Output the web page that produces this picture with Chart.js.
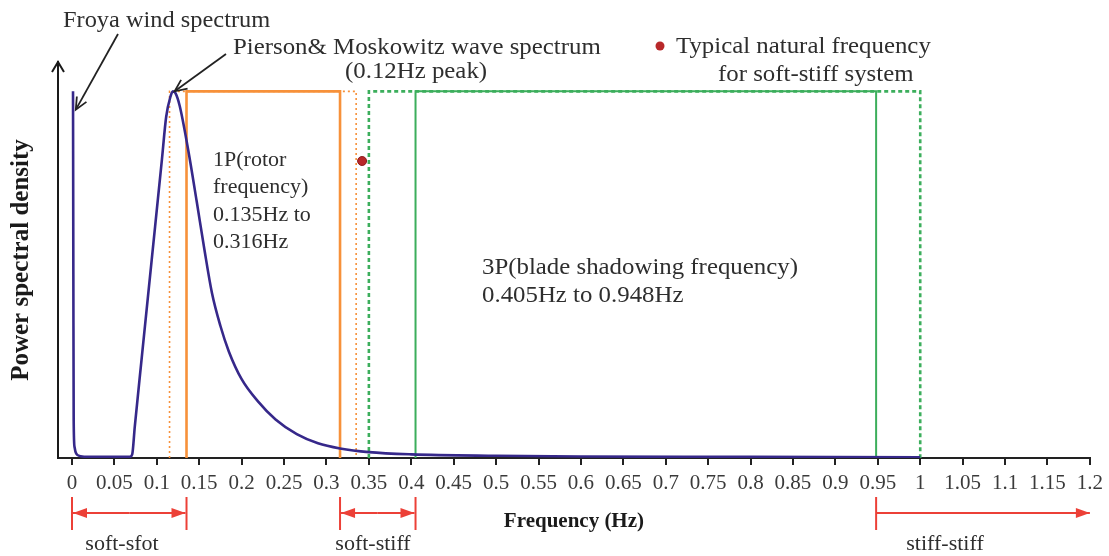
<!DOCTYPE html>
<html>
<head>
<meta charset="utf-8">
<script src="https://cdn.jsdelivr.net/npm/chart.js@4.4.1/dist/chart.umd.min.js"></script>
<style>
  html, body { margin: 0; padding: 0; background: #ffffff; }
  #c { display: block; }
</style>
</head>
<body>
<canvas id="c" width="1109" height="556"></canvas>
<script>
// ---------------- data ----------------
const xTickValues = [0, 0.05, 0.1, 0.15, 0.2, 0.25, 0.3, 0.35, 0.4, 0.45, 0.5, 0.55, 0.6,
                     0.65, 0.7, 0.75, 0.8, 0.85, 0.9, 0.95, 1, 1.05, 1.1, 1.15, 1.2];
const xTickLabels = ['0', '0.05', '0.1', '0.15', '0.2', '0.25', '0.3', '0.35', '0.4', '0.45', '0.5', '0.55', '0.6',
                     '0.65', '0.7', '0.75', '0.8', '0.85', '0.9', '0.95', '1', '1.05', '1.1', '1.15', '1.2'];

// Froya wind spike + Pierson-Moskowitz wave spectrum (normalised PSD)
const spectrumFreq = [0.0012, 0.0016, 0.002, 0.003, 0.005, 0.01, 0.02, 0.04, 0.06, 0.068, 0.071,
                      0.074, 0.082, 0.094, 0.106, 0.111, 0.116, 0.119, 0.122, 0.127, 0.137, 0.147,
                      0.156, 0.165, 0.175, 0.185, 0.2, 0.219, 0.24, 0.265, 0.29, 0.316, 0.35, 0.4, 0.5,
                      0.6, 0.8, 1.0];
const spectrumPSD  = [1.0, 0.5, 0.1, 0.03, 0.012, 0.005, 0.003, 0.003, 0.003, 0.003, 0.01,
                      0.085, 0.268, 0.541, 0.814, 0.93, 0.985, 1.0, 0.995, 0.96, 0.84, 0.70,
                      0.57, 0.45, 0.36, 0.29, 0.215, 0.155, 0.105, 0.065, 0.04, 0.026, 0.016, 0.01, 0.006,
                      0.004, 0.003, 0.002];

const bandTop = 1.0;
const oneP = [0.135, 0.316];          // 1P rotor frequency range
const onePMargin = [0.115, 0.335];    // 1P with margin (dotted)
const threeP = [0.405, 0.948];        // 3P blade shadowing range
const threePMargin = [0.35, 1.0];     // 3P with margin (dotted)
const naturalFreq = [0.342];          // typical natural frequency (soft-stiff)
const naturalPSD = [0.81];

const regionNames = ['soft-sfot', 'soft-stiff', 'stiff-stiff'];
const regionStart = [0, 0.316, 0.948];
const regionEnd   = [0.135, 0.405, 1.2];

// ---------------- helpers ----------------
function rect(range, top) {
  return [{x: range[0], y: 0}, {x: range[0], y: top}, {x: range[1], y: top}, {x: range[1], y: 0}];
}

const PURPLE = '#36288a';
const ORANGE = '#f7913a';
const GREEN = '#3cae5c';
const RED = '#ec4037';
const TEXT = '#2e2e2e';
const SERIF = "'Liberation Serif', 'Times New Roman', serif";

Chart.defaults.font.family = SERIF;
Chart.defaults.color = TEXT;

function arrow(ctx, x1, y1, x2, y2, color, len, half, filled) {
  const a = Math.atan2(y2 - y1, x2 - x1);
  ctx.strokeStyle = color;
  ctx.fillStyle = color;
  ctx.beginPath();
  ctx.moveTo(x1, y1);
  ctx.lineTo(x2, y2);
  ctx.stroke();
  const bx = x2 - len * Math.cos(a), by = y2 - len * Math.sin(a);
  const px = -Math.sin(a) * half, py = Math.cos(a) * half;
  ctx.beginPath();
  if (filled) {
    ctx.moveTo(x2, y2);
    ctx.lineTo(bx + px, by + py);
    ctx.lineTo(bx - px, by - py);
    ctx.closePath();
    ctx.fill();
  } else {
    ctx.moveTo(bx + px, by + py);
    ctx.lineTo(x2, y2);
    ctx.lineTo(bx - px, by - py);
    ctx.stroke();
  }
}

function wideText(ctx, text, x, y, sx) {
  ctx.save();
  ctx.translate(x, y);
  ctx.scale(sx, 1);
  ctx.fillText(text, 0, 0);
  ctx.restore();
}

const annotations = {
  id: 'annotations',
  afterDraw(chart) {
    const ctx = chart.ctx;
    const xs = chart.scales.x, ys = chart.scales.y;
    const area = chart.chartArea;
    ctx.save();
    // y-axis arrow head
    ctx.lineWidth = 2;
    ctx.strokeStyle = '#1a1a1a';
    ctx.beginPath();
    ctx.moveTo(area.left - 6, area.top + 10);
    ctx.lineTo(area.left, area.top);
    ctx.lineTo(area.left + 6, area.top + 10);
    ctx.stroke();

    // text annotations
    ctx.fillStyle = TEXT;
    ctx.textBaseline = 'middle';
    ctx.textAlign = 'left';
    ctx.font = '23px ' + SERIF;
    wideText(ctx, 'Froya wind spectrum', 63, 21, 1.06);
    wideText(ctx, 'Pierson& Moskowitz wave spectrum', 233, 48, 1.08);
    wideText(ctx, '(0.12Hz peak)', 345, 72, 1.08);
    wideText(ctx, 'Typical natural frequency', 676, 47, 1.08);
    wideText(ctx, 'for soft-stiff system', 718, 75, 1.08);

    ctx.font = '22px ' + SERIF;
    ['1P(rotor', 'frequency)', '0.135Hz to', '0.316Hz'].forEach((t, i) => wideText(ctx, t, 213, 160 + i * 27.5, 1.0));
    ctx.font = '23px ' + SERIF;
    wideText(ctx, '3P(blade shadowing frequency)', 482, 268, 1.08);
    wideText(ctx, '0.405Hz to 0.948Hz', 482, 296, 1.08);

    // legend dot
    ctx.fillStyle = '#b8282a';
    ctx.beginPath();
    ctx.arc(660, 46, 4.5, 0, Math.PI * 2);
    ctx.fill();

    // black pointer arrows
    ctx.lineWidth = 1.8;
    arrow(ctx, 118, 34, xs.getPixelForValue(0.0045), ys.getPixelForValue(0.95), '#222', 12, 5.5, false);
    arrow(ctx, 226, 54, xs.getPixelForValue(0.121), ys.getPixelForValue(1.0), '#222', 12, 5.5, false);

    // bottom stiffness regions
    const ay = 513;
    ctx.lineWidth = 2;
    for (let i = 0; i < regionNames.length; i++) {
      const x1 = xs.getPixelForValue(regionStart[i]);
      const x2 = xs.getPixelForValue(regionEnd[i]);
      ctx.strokeStyle = RED;
      ctx.beginPath();
      ctx.moveTo(x1, 497); ctx.lineTo(x1, 530);
      ctx.stroke();
      if (i < 2) {
        ctx.beginPath();
        ctx.moveTo(x2, 497); ctx.lineTo(x2, 530);
        ctx.stroke();
        arrow(ctx, (x1 + x2) / 2, ay, x1 + 1, ay, RED, 14, 5, true);
        arrow(ctx, (x1 + x2) / 2, ay, x2 - 1, ay, RED, 14, 5, true);
      } else {
        arrow(ctx, x1, ay, x2, ay, RED, 14, 5, true);
      }
    }
    ctx.fillStyle = TEXT;
    ctx.textAlign = 'center';
    ctx.font = '22px ' + SERIF;
    ctx.fillText(regionNames[0], 122, 544);
    ctx.fillText(regionNames[1], 373, 544);
    ctx.fillText(regionNames[2], 945, 544);
    ctx.restore();
  }
};

new Chart(document.getElementById('c'), {
  type: 'scatter',
  data: {
    datasets: [
      {
        label: 'Natural frequency',
        data: naturalFreq.map((f, i) => ({x: f, y: naturalPSD[i]})),
        pointRadius: 4.5, pointBackgroundColor: '#b8282a', pointBorderColor: '#8c1c1e', pointBorderWidth: 1,
        showLine: false
      },
      {
        label: 'Spectrum',
        data: spectrumFreq.map((f, i) => ({x: f, y: spectrumPSD[i]})),
        showLine: true, borderColor: PURPLE, borderWidth: 2.6, pointRadius: 0,
        cubicInterpolationMode: 'monotone'
      },
      {
        label: '1P', data: rect(oneP, bandTop), showLine: true,
        borderColor: ORANGE, borderWidth: 2.6, pointRadius: 0, tension: 0
      },
      {
        label: '1P margin', data: rect(onePMargin, bandTop), showLine: true,
        borderColor: ORANGE, borderWidth: 1.6, borderDash: [2, 3], pointRadius: 0, tension: 0
      },
      {
        label: '3P', data: rect(threeP, bandTop), showLine: true,
        borderColor: GREEN, borderWidth: 2, pointRadius: 0, tension: 0
      },
      {
        label: '3P margin', data: rect(threePMargin, bandTop), showLine: true,
        borderColor: GREEN, borderWidth: 2.6, borderDash: [4, 3], pointRadius: 0, tension: 0
      }
    ]
  },
  options: {
    responsive: false,
    animation: false,
    layout: { padding: { top: 62, right: 19, left: 0, bottom: 0 } },
    plugins: { legend: { display: false }, tooltip: { enabled: false } },
    scales: {
      x: {
        type: 'linear', min: -0.0165, max: 1.2,
        afterBuildTicks: (axis) => { axis.ticks = xTickValues.map(v => ({ value: v })); },
        afterFit: (s) => { s.height = 98; },
        ticks: {
          autoSkip: false, maxRotation: 0, minRotation: 0, padding: 6,
          color: '#3a3a3a', font: { size: 21, family: SERIF },
          callback: (v, i) => xTickLabels[i]
        },
        grid: { drawOnChartArea: false, drawTicks: true, tickLength: 7, color: '#222', lineWidth: 2 },
        border: { display: true, color: '#222', width: 2 },
        title: {
          display: true, text: 'Frequency (Hz)', color: '#1a1a1a',
          font: { size: 21, weight: 'bold', family: SERIF, lineHeight: 1.2 },
          padding: { top: 0, bottom: 22 }
        }
      },
      y: {
        min: 0, max: 1.08,
        afterFit: (s) => { s.width = 58; },
        ticks: { display: false },
        grid: { display: false, drawTicks: false },
        border: { display: true, color: '#1a1a1a', width: 2 },
        title: {
          display: true, text: 'Power spectral density', color: '#1a1a1a',
          font: { size: 25, weight: 'bold', family: SERIF, lineHeight: 1.2 },
          padding: { top: 7, bottom: 0 }
        }
      }
    }
  },
  plugins: [annotations]
});
</script>
</body>
</html>
